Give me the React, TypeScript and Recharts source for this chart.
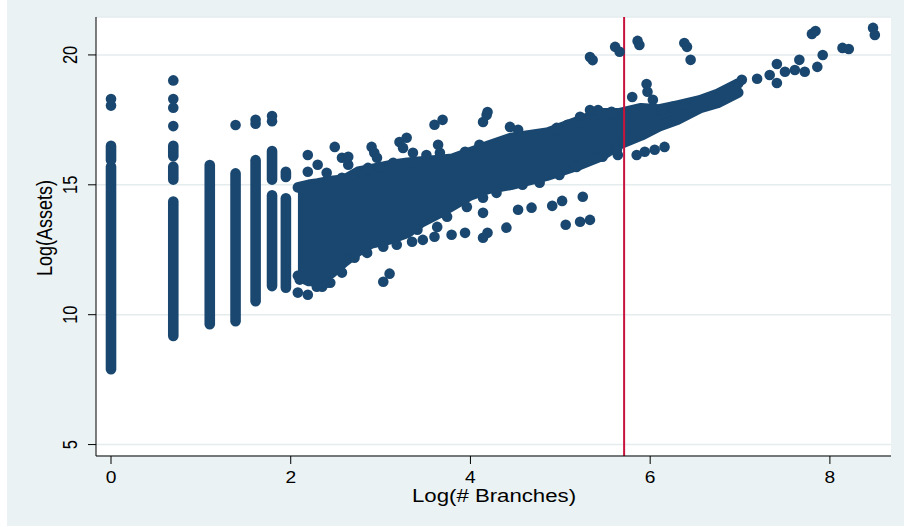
import React from "react";
import { ComposedChart, Area, Scatter, XAxis, YAxis, CartesianGrid, ReferenceLine } from "recharts";

const NAVY = "#1a476f";
const FONT = "Arial, 'Liberation Sans', sans-serif";

// single-branch-count columns (log # branches = ln 1, ln 2, ...)
const colX = [0, 0, 0.693, 0.693, 0.693, 1.099, 1.386, 1.609, 1.792, 1.792, 1.946, 1.946];
const colLow = [7.9, 15.95, 9.18, 15.2, 16.1, 9.63, 9.75, 10.52, 11.1, 15.2, 11.04, 15.3];
const colHigh = [15.7, 16.5, 14.36, 15.7, 16.5, 15.76, 15.44, 15.95, 14.6, 16.3, 14.48, 15.5];

// dense cloud, read as low / high envelope of marker centres
const bandX = [2.08, 2.2, 2.3, 2.45, 2.6, 2.75, 2.9, 3.1, 3.3, 3.45, 3.65, 3.8, 4.0, 4.2, 4.45, 4.85, 5.2, 5.45, 5.65, 5.9, 6.1, 6.3, 6.55, 6.75, 6.98];
const bandLow = [11.5, 11.3, 11.3, 11.6, 12.05, 12.45, 12.75, 12.9, 13.15, 13.55, 13.9, 14.2, 14.6, 14.85, 15.0, 15.35, 15.75, 16.1, 16.55, 16.9, 17.25, 17.5, 17.95, 18.15, 18.55];
const bandHigh = [14.9, 15.0, 15.05, 15.15, 15.2, 15.5, 15.6, 15.75, 15.85, 15.9, 15.95, 16.0, 16.25, 16.5, 16.8, 17.0, 17.45, 17.75, 17.75, 17.95, 17.9, 18.05, 18.25, 18.5, 18.9];

// isolated markers and markers on the edge of the cloud
const outX = [
  0, 0, 0.693, 0.693, 0.693, 0.693, 1.386, 1.609, 1.609, 1.792, 1.792, 2.079,
  2.19, 2.19, 2.3, 2.49, 2.57, 2.64, 2.64, 2.9, 2.93, 2.96, 3.21, 3.29, 3.25, 3.36, 3.6, 3.69, 3.64, 3.94,
  4.14, 4.18, 4.19, 4.44, 4.53,
  2.4, 2.57, 2.79, 2.86, 2.99, 3.14, 3.36, 3.51, 3.66, 3.85, 4.1,
  4.96, 5.08, 5.22, 5.33, 6.13, 6.25,
  2.19, 2.35, 2.44, 2.57, 3.03, 3.1, 3.35, 3.47, 3.6, 3.79, 3.94,
  2.1, 2.29, 2.4, 2.71, 2.85, 3.03, 3.18, 3.41, 3.63, 3.74, 3.96, 4.14,
  4.29, 4.58, 4.77, 4.99, 5.18, 5.47,
  4.14, 4.4, 4.19, 4.14, 4.53, 4.68, 4.91, 5.02, 5.25, 5.06, 5.22, 5.33,
  5.42, 5.57, 5.8, 5.96, 5.97, 6.03,
  5.64, 5.63, 5.85, 5.94, 6.05, 6.16,
  5.33, 5.36, 5.61, 5.66, 5.86, 5.88, 6.38, 6.41, 6.45,
  7.02, 7.19, 7.33, 7.41, 7.41, 7.5, 7.61, 7.66, 7.72, 7.86, 7.92,
  7.8, 7.84, 8.14, 8.21, 8.48, 8.5,
];
const outY = [
  18.05, 18.3, 17.26, 17.97, 18.3, 19.02, 17.3, 17.35, 17.5, 17.45, 17.65, 10.85,
  16.15, 15.5, 15.77, 16.46, 16.04, 16.08, 15.77, 16.46, 16.23, 16.04, 16.65, 16.81, 16.42, 16.23, 17.31, 17.5, 16.54, 16.27,
  17.42, 17.69, 17.8, 17.23, 17.12,
  15.46, 15.27, 15.5, 15.65, 15.69, 15.85, 15.88, 16.15, 16.23, 15.96, 16.54,
  17.19, 17.31, 17.62, 17.88, 17.88, 18.0,
  10.77, 11.08, 11.23, 11.62, 11.27, 11.58, 12.81, 12.88, 13.0, 13.08, 13.15,
  11.35, 11.08, 11.23, 12.19, 12.38, 12.62, 12.69, 13.27, 13.38, 13.77, 14.15, 14.5,
  14.69, 15.0, 15.08, 15.38, 15.69, 16.08,
  13.92, 13.35, 13.15, 12.96, 14.04, 14.12, 14.19, 14.38, 14.54, 13.46, 13.58, 13.65,
  17.88, 17.81, 18.38, 18.88, 18.58, 18.27,
  16.15, 16.35, 16.15, 16.27, 16.35, 16.46,
  19.92, 19.8, 20.31, 20.12, 20.54, 20.38, 20.46, 20.31, 19.81,
  19.04, 19.08, 19.23, 19.65, 18.92, 19.35, 19.42, 19.81, 19.35, 19.54, 20.0,
  20.81, 20.92, 20.27, 20.23, 21.04, 20.77,
];

const xTicks = [0, 2, 4, 6, 8];
const yTicks = [5, 10, 15, 20];
const cutoff = 5.71;

const Marker = (p: any) => <circle cx={p.cx} cy={p.cy} r={5.3} fill={NAVY} />;

const XTick = (p: any) => (
  <text transform={`translate(${p.x},483) scale(1.2,1)`} textAnchor="middle" fontSize={16} fontFamily={FONT} fill="#000">
    {p.payload.value}
  </text>
);

const YTick = (p: any) => (
  <text transform={`translate(70,${p.y}) scale(1.2,1) rotate(-90)`} textAnchor="middle" fontSize={16.5} fontFamily={FONT} fill="#000">
    {p.payload.value}
  </text>
);

export default function App() {
  const band = bandX.map((x, i) => ({ x, range: [bandLow[i], bandHigh[i]] }));
  const dots = outX.map((x, i) => ({ x, y: outY[i] }));

  return (
    <div style={{ position: "absolute", left: 7, top: 0, width: 897, height: 526, background: "#eaf2f3" }}>
      <ComposedChart width={897} height={526} data={band} margin={{ top: 17, right: 13, bottom: 0, left: 0 }}>
        <CartesianGrid vertical={false} stroke="#e4ecee" strokeWidth={1.5} fill="#ffffff" fillOpacity={1} />
        <XAxis
          type="number"
          dataKey="x"
          domain={[-0.167, 8.68]}
          allowDataOverflow
          ticks={xTicks}
          height={70}
          tickSize={8}
          axisLine={{ stroke: "#000" }}
          tickLine={{ stroke: "#000" }}
          tick={(p: any) => <XTick {...p} />}
          label={{
            content: () => (
              <text transform="translate(487,501.7) scale(1.2,1)" textAnchor="middle" fontSize={18.5} fontFamily={FONT} fill="#000">
                Log(# Branches)
              </text>
            ),
          }}
        />
        <YAxis
          type="number"
          dataKey="y"
          domain={[4.56, 21.46]}
          allowDataOverflow
          ticks={yTicks}
          width={89}
          tickSize={8}
          axisLine={{ stroke: "#000" }}
          tickLine={{ stroke: "#000" }}
          tick={(p: any) => <YTick {...p} />}
          label={{
            content: () => (
              <text transform="translate(45,228) scale(1.2,1) rotate(-90)" textAnchor="middle" fontSize={18} fontFamily={FONT} fill="#000">
                Log(Assets)
              </text>
            ),
          }}
        />
        {colX.map((x, i) => (
          <ReferenceLine
            key={`c${i}`}
            segment={[{ x, y: colLow[i] }, { x, y: colHigh[i] }]}
            stroke={NAVY}
            strokeWidth={10.6}
            strokeLinecap="round"
          />
        ))}
        <Area
          type="linear"
          dataKey="range"
          stroke={NAVY}
          strokeWidth={10.6}
          strokeLinejoin="round"
          strokeLinecap="round"
          fill={NAVY}
          fillOpacity={1}
          dot={false}
          activeDot={false}
          isAnimationActive={false}
        />
        <Scatter data={dots} shape={Marker} isAnimationActive={false} />
        <ReferenceLine x={cutoff} stroke="#c8143c" strokeWidth={2} />
      </ComposedChart>
    </div>
  );
}
